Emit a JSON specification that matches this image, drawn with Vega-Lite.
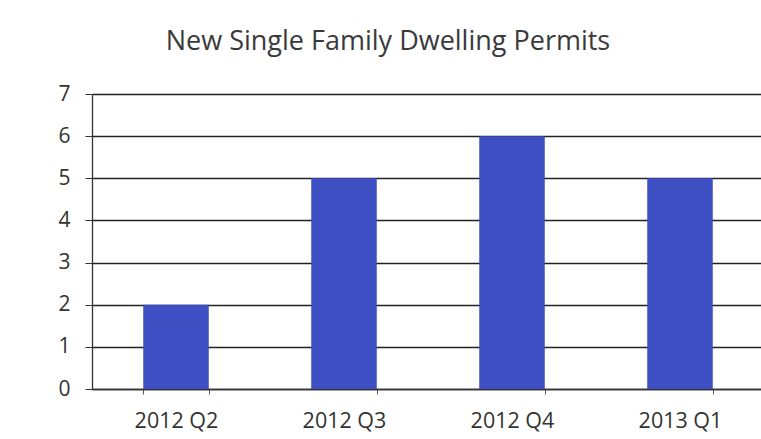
{
  "$schema": "https://vega.github.io/schema/vega-lite/v6.json",
  "width": 672,
  "height": 295,
  "autosize": "none",
  "padding": {"left": 92, "top": 94, "right": 0, "bottom": 50},
  "background": "white",
  "title": {
    "text": "New Single Family Dwelling Permits",
    "font": "Open Sans",
    "fontSize": 27,
    "fontWeight": "normal",
    "color": "#3a3a3a",
    "anchor": "middle",
    "frame": "group",
    "baseline": "alphabetic",
    "dx": -40,
    "offset": 6
  },
  "data": {
    "values": [
      {"quarter": "2012 Q2", "permits": 2},
      {"quarter": "2012 Q3", "permits": 5},
      {"quarter": "2012 Q4", "permits": 6},
      {"quarter": "2013 Q1", "permits": 5}
    ]
  },
  "mark": {"type": "bar", "color": "#3d4fc2"},
  "encoding": {
    "x": {
      "field": "quarter",
      "type": "nominal",
      "sort": null,
      "scale": {"paddingInner": 0.61, "paddingOuter": 0.305},
      "axis": {
        "title": null,
        "labelAngle": 0,
        "labelFont": "Open Sans",
        "labelFontSize": 21.5,
        "labelColor": "#333333",
        "labelPadding": 16,
        "tickBand": "extent",
        "ticks": true,
        "tickSize": 5,
        "tickColor": "#555555",
        "domainColor": "#333333",
        "domainWidth": 1.3,
        "grid": false
      }
    },
    "y": {
      "field": "permits",
      "type": "quantitative",
      "scale": {"domain": [0, 7]},
      "axis": {
        "title": null,
        "values": [0, 1, 2, 3, 4, 5, 6, 7],
        "labelFont": "Open Sans",
        "labelFontSize": 21,
        "labelColor": "#333333",
        "labelPadding": 15,
        "tickSize": 7,
        "tickColor": "#333333",
        "domainColor": "#333333",
        "domainWidth": 1.3,
        "grid": true,
        "gridColor": "#222222",
        "gridWidth": 1.4
      }
    }
  },
  "config": {"view": {"stroke": null}}
}
